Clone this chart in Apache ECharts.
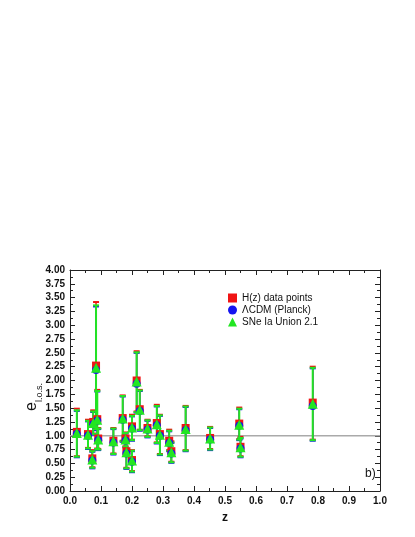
<!DOCTYPE html>
<html><head><meta charset="utf-8">
<script src="https://cdn.jsdelivr.net/npm/echarts@6/dist/echarts.min.js"></script>
<style>html,body{margin:0;padding:0;background:#fff}#c{width:415px;height:537px}</style>
</head><body><div id="c"></div>
<script>
const seriesNames = ['H(z) data points', 'ΛCDM (Planck)', 'SNe Ia Union 2.1'];
const xTicks = [0.0,0.1,0.2,0.3,0.4,0.5,0.6,0.7,0.8,0.9,1.0];
const z = [0.022,0.058,0.072,0.075,0.084,0.088,0.091,0.140,0.170,0.179,0.182,0.200,0.200,0.215,0.225,0.250,0.280,0.290,0.320,0.327,0.373,0.452,0.546,0.550,0.783];
const hzVal  = [1.07,1.03,0.59,1.25,2.27,1.30,0.95,0.91,1.32,0.95,0.72,1.17,0.56,2.00,1.48,1.14,1.23,1.03,0.91,0.72,1.14,0.96,1.22,0.80,1.60];
const hzLow  = [0.63,0.78,0.43,1.04,1.14,0.77,0.76,0.68,0.91,0.81,0.42,0.93,0.36,1.44,1.11,0.99,0.88,0.67,0.74,0.53,0.74,0.76,0.94,0.63,0.93];
const hzHigh = [1.49,1.29,0.74,1.46,3.42,1.83,1.14,1.14,1.73,1.06,0.92,1.38,0.74,2.53,1.83,1.29,1.56,1.38,1.11,0.90,1.54,1.16,1.51,0.98,2.25];
const lcdmVal  = [1.03,1.00,0.55,1.21,2.19,1.27,0.92,0.88,1.29,0.91,0.68,1.13,0.53,1.94,1.45,1.11,1.19,1.00,0.87,0.68,1.10,0.93,1.18,0.77,1.54];
const lcdmLow  = [0.61,0.76,0.41,1.02,1.10,0.75,0.74,0.66,0.89,0.79,0.40,0.91,0.34,1.42,1.09,0.97,0.86,0.65,0.72,0.51,0.72,0.74,0.92,0.61,0.91];
const lcdmHigh = [1.45,1.26,0.71,1.43,3.34,1.80,1.12,1.12,1.71,1.04,0.89,1.35,0.72,2.50,1.81,1.27,1.53,1.36,1.08,0.87,1.52,1.14,1.48,0.95,2.22];
const sneVal  = [1.05,1.02,0.57,1.23,2.23,1.29,0.93,0.90,1.31,0.93,0.70,1.15,0.55,1.98,1.47,1.13,1.21,1.02,0.89,0.70,1.12,0.95,1.20,0.79,1.58];
const sneLow  = [0.62,0.77,0.42,1.03,1.12,0.76,0.75,0.67,0.90,0.80,0.41,0.92,0.35,1.43,1.10,0.98,0.87,0.66,0.73,0.52,0.73,0.75,0.93,0.62,0.92];
const sneHigh = [1.46,1.27,0.72,1.44,3.36,1.81,1.13,1.13,1.72,1.05,0.90,1.36,0.73,2.51,1.82,1.28,1.54,1.37,1.09,0.88,1.53,1.15,1.49,0.96,2.23];
const refLine = [[0,1],[1,1]];

const RED='#f01414', BLUE='#1414f0', GREEN='#22e622';
const FONT='"Liberation Sans", Arial, sans-serif';

function errSeries(low, high, color, lw){
  return {
    type:'custom', silent:true, z:2,
    data: z.map((v,i)=>[v, low[i], high[i]]),
    renderItem:function(params, api){
      const lo = api.coord([api.value(0), api.value(1)]);
      const hi = api.coord([api.value(0), api.value(2)]);
      const w = 3;
      return {type:'group', children:[
        {type:'line', shape:{x1:lo[0],y1:lo[1],x2:hi[0],y2:hi[1]}, style:{stroke:color,lineWidth:lw}},
        {type:'line', shape:{x1:lo[0]-w,y1:lo[1],x2:lo[0]+w,y2:lo[1]}, style:{stroke:color,lineWidth:2}},
        {type:'line', shape:{x1:hi[0]-w,y1:hi[1],x2:hi[0]+w,y2:hi[1]}, style:{stroke:color,lineWidth:2}}
      ]};
    }
  };
}

const chart = echarts.init(document.getElementById('c'), null, {renderer:'canvas'});
const axisLine = {show:true, onZero:false, lineStyle:{color:'#222', width:1}};
const tick = {inside:true, length:5, lineStyle:{color:'#222'}};
const minor = {show:true, splitNumber:2, length:3, lineStyle:{color:'#222'}};
chart.setOption({
  animation:false,
  backgroundColor:'#fff',
  textStyle:{fontFamily:FONT},
  grid:{left:70, right:35, top:270, bottom:46},
  legend:{
    orient:'vertical', left:223, top:288, itemWidth:9, itemHeight:9, itemGap:2,
    textStyle:{fontSize:10, color:'#111', fontFamily:FONT},
    data:[{name:seriesNames[0], icon:'rect'},{name:seriesNames[1], icon:'circle'},{name:seriesNames[2], icon:'triangle'}]
  },
  xAxis:[
    {type:'value', min:0, max:1, interval:0.1, position:'bottom',
     axisLine:axisLine, axisTick:tick, minorTick:minor, splitLine:{show:false},
     axisLabel:{fontSize:10, fontWeight:'bold', color:'#111', margin:5, formatter:v=>v.toFixed(1)},
     name:'z', nameLocation:'middle', nameGap:21, nameTextStyle:{fontSize:12, fontWeight:'bold', color:'#111'}},
    {type:'value', min:0, max:1, interval:0.1, position:'top',
     axisLine:axisLine, axisTick:tick, minorTick:minor, splitLine:{show:false}, axisLabel:{show:false}}
  ],
  yAxis:[
    {type:'value', min:0, max:4, interval:0.25, position:'left',
     axisLine:axisLine, axisTick:tick, minorTick:minor, splitLine:{show:false},
     axisLabel:{fontSize:10, fontWeight:'bold', color:'#111', margin:5, formatter:v=>v.toFixed(2)}},
    {type:'value', min:0, max:4, interval:0.25, position:'right',
     axisLine:axisLine, axisTick:tick, minorTick:minor, splitLine:{show:false}, axisLabel:{show:false}}
  ],
  graphic:[
    {type:'text', left:365, top:468, style:{text:'b)', fontSize:12, fontFamily:FONT, fill:'#111'}},
    {type:'text', x:32, y:397, rotation:Math.PI/2,
     style:{text:'{e|e}{s|l.o.s.}', align:'center', verticalAlign:'middle', fill:'#111',
       rich:{e:{fontSize:16, fontFamily:FONT, fill:'#111', verticalAlign:'bottom'}, s:{fontSize:9, fontFamily:FONT, fill:'#111', verticalAlign:'bottom', padding:[0,0,-4,0]}}}}
  ],
  series:[
    {type:'line', data:refLine, symbol:'none', silent:true, z:1, lineStyle:{color:'#aaaaaa', width:1.5}},
    errSeries(hzLow, hzHigh, RED, 1.5),
    errSeries(lcdmLow, lcdmHigh, BLUE, 1.5),
    errSeries(sneLow, sneHigh, GREEN, 2),
    {name:seriesNames[0], type:'scatter', z:3, symbol:'rect', symbolSize:8, itemStyle:{color:RED, opacity:1}, data:z.map((v,i)=>[v,hzVal[i]])},
    {name:seriesNames[1], type:'scatter', z:4, symbol:'circle', symbolSize:8, itemStyle:{color:BLUE, opacity:1}, data:z.map((v,i)=>[v,lcdmVal[i]])},
    {name:seriesNames[2], type:'scatter', z:5, symbol:'triangle', symbolSize:10, itemStyle:{color:GREEN, opacity:1}, data:z.map((v,i)=>[v,sneVal[i]])}
  ]
});
</script></body></html>
